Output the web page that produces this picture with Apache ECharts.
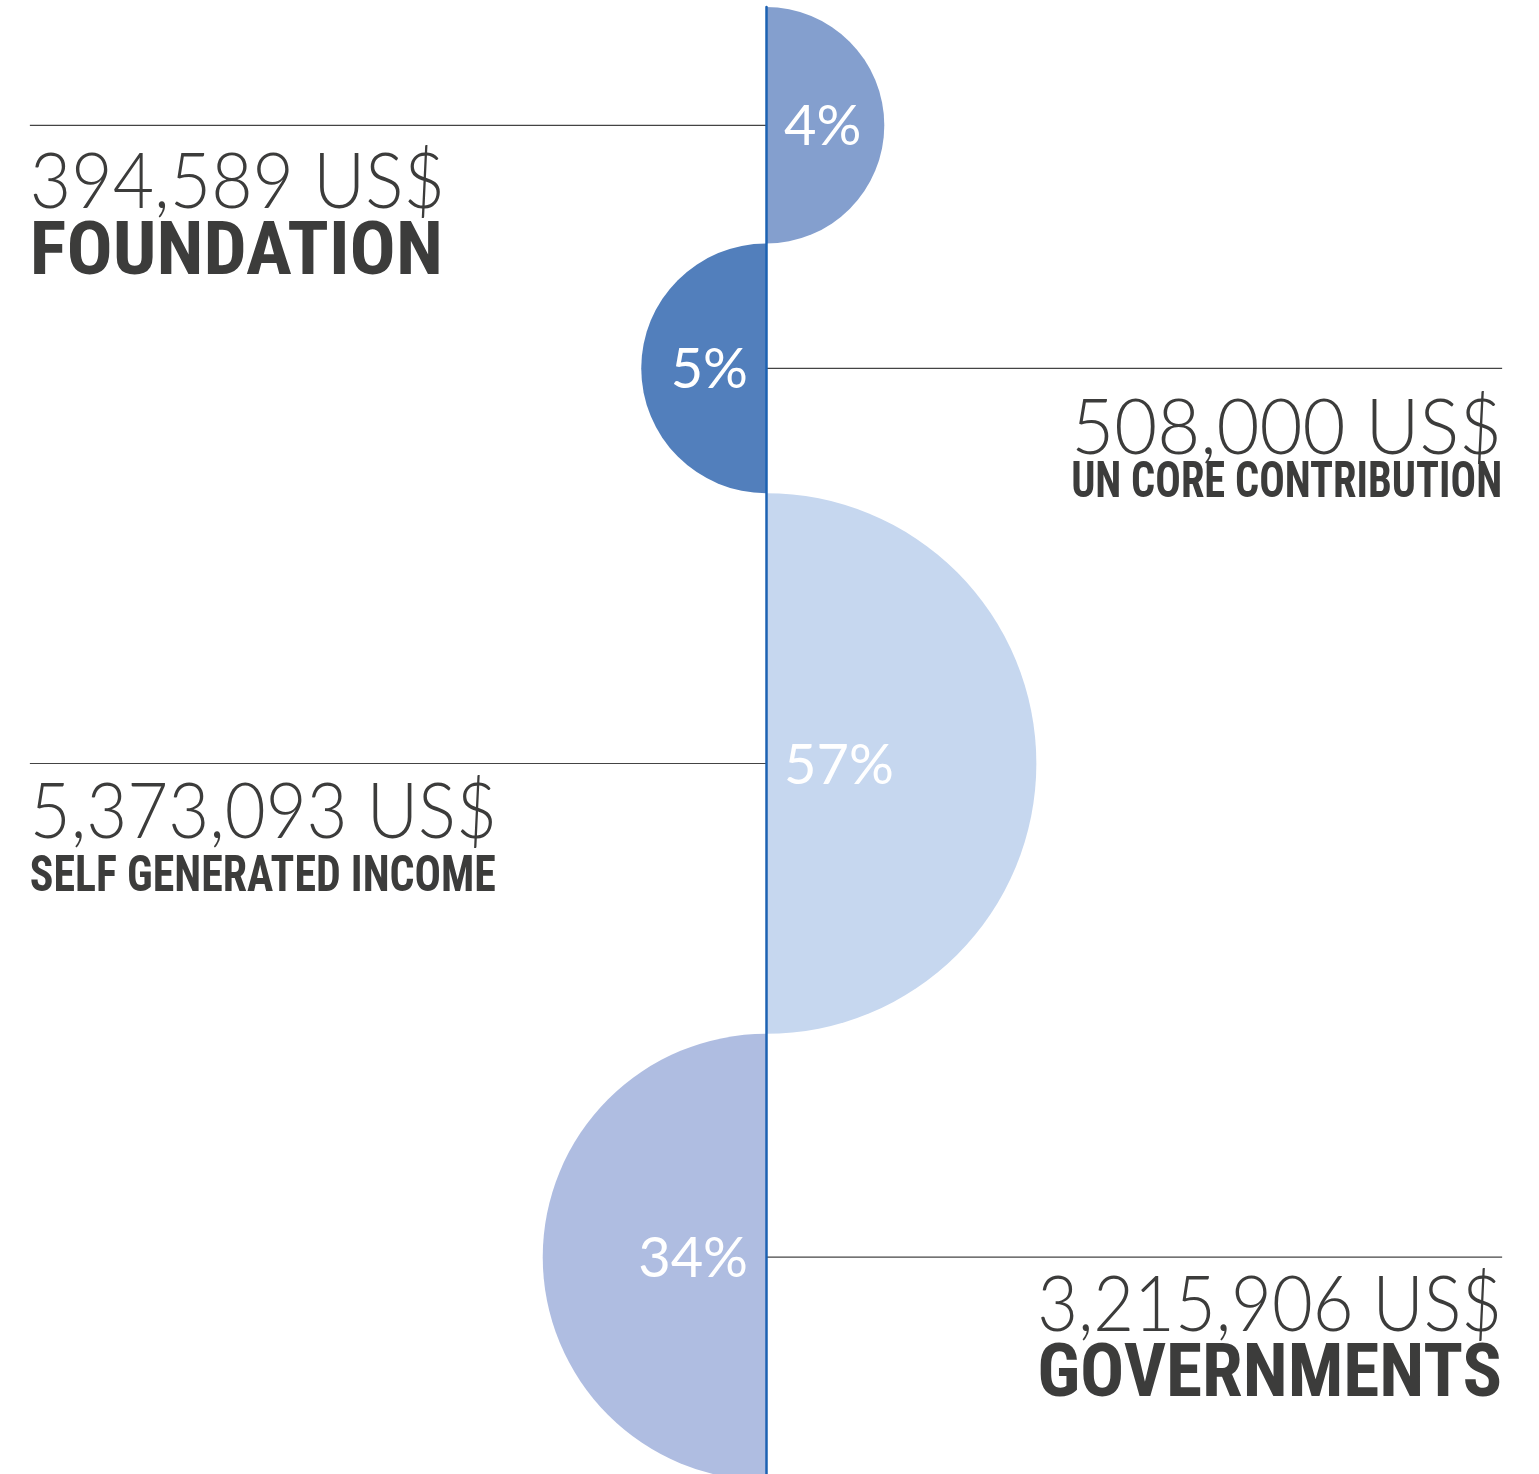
<!DOCTYPE html>
<html>
<head>
<meta charset="utf-8">
<script src="https://cdn.jsdelivr.net/npm/echarts@6/dist/echarts.min.js"></script>
<style>
  html, body { margin: 0; background: #fff; }
  #chart { width: 1539px; height: 1474px; }
</style>
</head>
<body>
<div id="chart"></div>
<script>
const categories = ['FOUNDATION', 'UN CORE CONTRIBUTION', 'SELF GENERATED INCOME', 'GOVERNMENTS'];
const amounts = [394589, 508000, 5373093, 3215906];
const shares = [4, 5, 57, 34];
const sides = ['right', 'left', 'right', 'left'];

// styling / layout
const colors = ['#849fce', '#527fbc', '#c6d7ef', '#afbde1'];
const ink = '#3c3c3b';
const catCap = [53, 36, 36, 53];
const catWidth = [413, 431, 466, 465];
const valWidth = [415, 431, 467, 465];
const valDrop = [58, 61, 50, 49];
const catDrop = [130, 116, 115, 120];
const reach = 0.961;
const gridTop = 7;

const valFont = "300 76px Lato, 'Open Sans', sans-serif";
const catFamily = "'Liberation Sans Narrow', 'Roboto Condensed', Roboto, sans-serif";
const pctFont = "400 56px Lato, 'Open Sans', sans-serif";

// half-circle size grows with the square root of the share
const radiusOf = p => 63.5 + 27.4 * Math.sqrt(p);

let cursor = 0;
const rows = shares.map((p, i) => {
  const r = radiusOf(p);
  const cy = cursor + r;
  cursor += 2 * r;
  return [0, cy, p, i];
});

const measure = document.createElement('canvas').getContext('2d');
const scaleFor = (text, font, width) => {
  measure.font = font;
  return width / measure.measureText(text).width;
};

const el = document.getElementById('chart');
const chart = echarts.init(el);

const option = {
  animation: false,
  // one axis unit per pixel; the last half circle runs past the bottom edge
  grid: { left: 0, right: 7, top: gridTop, bottom: 0 },
  xAxis: { type: 'value', min: -1, max: 1, show: false },
  yAxis: {
    type: 'value',
    inverse: true,
    min: 0,
    max: el.clientHeight - gridTop,
    z: 5,
    axisLine: { show: true, onZero: true, lineStyle: { color: '#1c62b2', width: 2.5 } },
    axisTick: { show: false },
    axisLabel: { show: false },
    splitLine: { show: false }
  },
  series: [{
    type: 'custom',
    clip: false,
    data: rows,
    renderItem: (params, api) => {
      const i = params.dataIndex;
      const [cx, cy] = api.coord([0, api.value(1)]);
      const r = api.size([0, radiusOf(api.value(2))])[1];
      const right = sides[i] === 'right';
      const dir = right ? 1 : -1;
      const edge = api.coord([-dir * reach, 0])[0];
      const labelAlign = right ? 'left' : 'right';

      const valText = amounts[i].toLocaleString('en-US') + ' US$';
      const catSize = Math.round(catCap[i] / 0.72);
      const catFont = `700 ${catSize}px ${catFamily}`;

      return {
        type: 'group',
        children: [
          {
            type: 'sector',
            shape: {
              cx, cy, r0: 0, r,
              startAngle: right ? -Math.PI / 2 : Math.PI / 2,
              endAngle: right ? Math.PI / 2 : Math.PI * 1.5
            },
            style: { fill: colors[i] }
          },
          {
            type: 'line',
            shape: { x1: cx, y1: cy, x2: edge, y2: cy },
            style: { stroke: '#444444', lineWidth: 1.2 }
          },
          {
            type: 'text',
            x: cx + dir * 18,
            y: cy + 2,
            style: {
              text: api.value(2) + '%',
              font: pctFont,
              fill: '#fff',
              align: right ? 'left' : 'right',
              verticalAlign: 'middle'
            }
          },
          {
            type: 'text',
            x: edge,
            y: cy + valDrop[i],
            scaleX: scaleFor(valText, valFont, valWidth[i]),
            style: {
              text: valText,
              font: valFont,
              fill: ink,
              align: labelAlign,
              verticalAlign: 'middle'
            }
          },
          {
            type: 'text',
            x: edge,
            y: cy + catDrop[i],
            scaleX: scaleFor(categories[i], catFont, catWidth[i]),
            style: {
              text: categories[i],
              font: catFont,
              fill: ink,
              align: labelAlign,
              verticalAlign: 'middle'
            }
          }
        ]
      };
    }
  }]
};

chart.setOption(option);
window.addEventListener('resize', () => chart.resize());
</script>
</body>
</html>
